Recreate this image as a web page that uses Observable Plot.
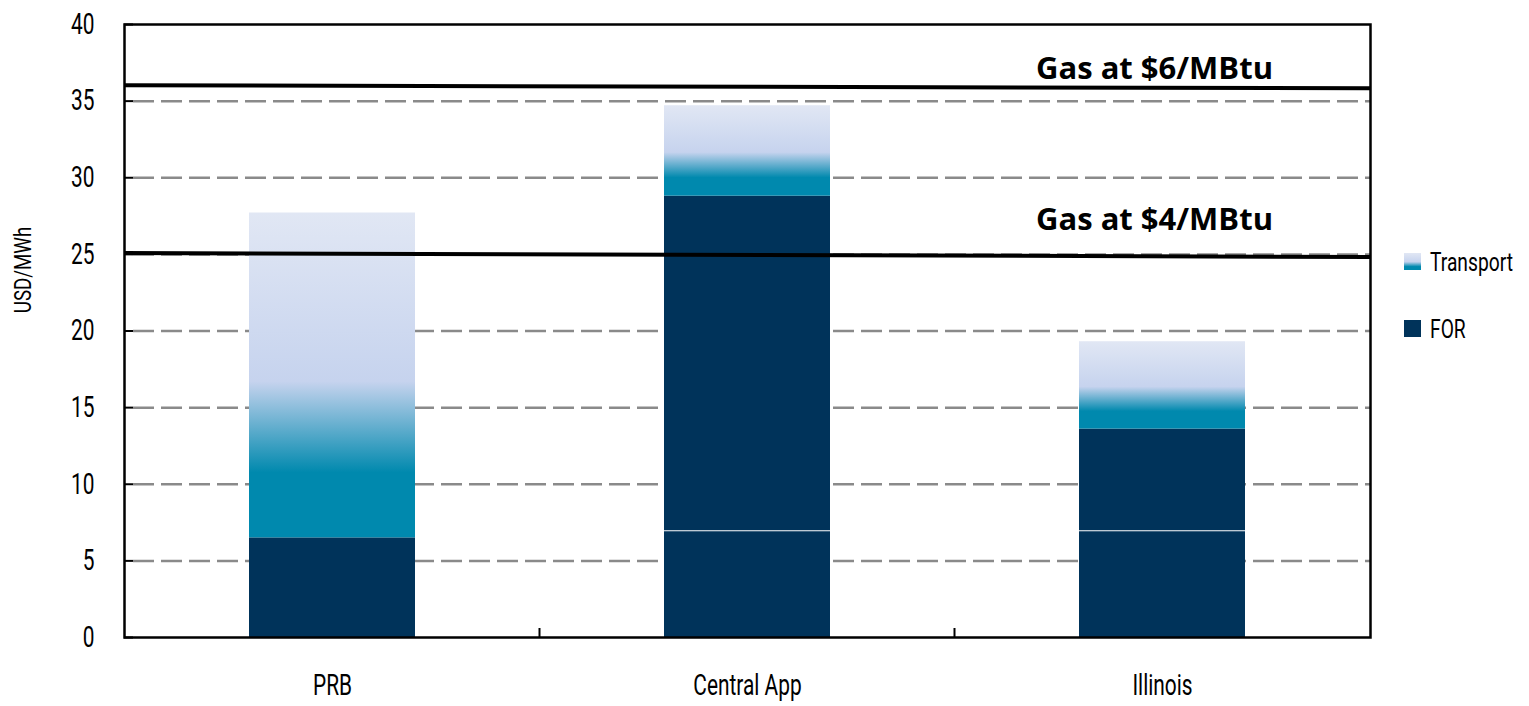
<!DOCTYPE html>
<html><head><meta charset="utf-8">
<script src="https://cdn.jsdelivr.net/npm/d3@7"></script>
<script src="https://cdn.jsdelivr.net/npm/@observablehq/plot@0.6"></script>
<style>body{margin:0;background:#fff}</style>
</head><body><div id="chart"></div>
<script>
// ---- data ----
const categories = ["PRB", "Central App", "Illinois"];
const forBase = [6.5, 6.9, 6.9];
const forUpper = [0, 21.9, 6.7];
const transport = [21.2, 5.9, 5.7];
const gasLabels = ["Gas at $6/MBtu", "Gas at $4/MBtu"];
const gasStart = [36.0, 25.05];
const gasEnd = [35.8, 24.8];
const yTicks = [0, 5, 10, 15, 20, 25, 30, 35, 40];
const gridTicks = [5, 10, 15, 20, 25, 30, 35];
const seriesNames = ["Transport", "FOR"];
const yLabel = "USD/MWh";

// ---- style ----
const NAVY = "#00335a", TEAL = "#0089ae", LAV = "#c6d3ee", TOP = "#e1e7f4";
const NARROW = "Roboto,'Liberation Sans',sans-serif";
const SQUEEZE = 0.72;
const W = 1529, H = 706, ML = 124, MR = 159, MT = 24, MB = 69;

const rows = categories.map((c, i) => ({
  cat: c,
  b0: 0,
  b1: forBase[i],
  u1: forBase[i] + forUpper[i],
  t1: forBase[i] + forUpper[i] + transport[i],
  up: forUpper[i]
}));
const gas = gasLabels.map((l, i) => ({label: l, y0: gasStart[i], y1: gasEnd[i], cat: categories[2]}));

const chart = Plot.plot({
  width: W, height: H,
  marginLeft: ML, marginRight: MR, marginTop: MT, marginBottom: MB,
  style: {fontFamily: NARROW, fontSize: "28px", background: "#fff", color: "#000"},
  x: {domain: categories, paddingInner: 0.6, paddingOuter: 0.3, label: null},
  y: {domain: [0, 40], label: null},
  marks: [
    Plot.ruleY(gridTicks, {stroke: "#8a8a8a", strokeWidth: 2.5, strokeDasharray: "21,7", insetLeft: 9}),
    Plot.barY(rows, {x: "cat", y1: "b0", y2: "b1", fill: NAVY}),
    Plot.barY(rows.filter(d => d.up > 0), {x: "cat", y1: "b1", y2: "u1", fill: NAVY, insetBottom: 1}),
    Plot.barY(rows, {x: "cat", y1: "u1", y2: "t1", fill: "url(#transportGrad)"}),
    Plot.frame({stroke: "#000", strokeWidth: 2.5}),
    Plot.axisY({ticks: yTicks, tickSize: 0, tickPadding: 30, fontSize: 29, label: null}),
    Plot.axisY({ticks: yTicks, tickSize: 9, dx: 9, strokeWidth: 2, tickFormat: () => "", label: null}),
    Plot.axisX({tickSize: 0, tickPadding: 37, fontSize: 29, label: null}),
    Plot.text(gas.slice(0, 1), {x: "cat", y: "y0", text: "label", dx: -8, dy: -7, lineAnchor: "bottom",
      fontFamily: "'Open Sans',sans-serif", fontWeight: "bold", fontSize: 31}),
    Plot.text(gas.slice(1), {x: "cat", y: "y0", text: "label", dx: -8, dy: -24, lineAnchor: "bottom",
      fontFamily: "'Open Sans',sans-serif", fontWeight: "bold", fontSize: 31})
  ]
});
document.getElementById("chart").appendChild(chart);

const svg = d3.select(chart);
const xs = chart.scale("x"), ys = chart.scale("y");
const yf = v => ys.apply(v);

// condensed look for axis tick labels
svg.selectAll('g[aria-label$="tick label"] text').each(function () {
  const t = this.getAttribute("transform") || "";
  this.setAttribute("transform", `${t} scale(${SQUEEZE},1)`);
});

// gradient defs
const defs = svg.insert("defs", ":first-child");
const g = defs.append("linearGradient").attr("id", "transportGrad")
  .attr("x1", 0).attr("y1", 1).attr("x2", 0).attr("y2", 0);
[[0, TEAL], [0.2, TEAL], [0.48, LAV], [1, TOP]].forEach(([o, c]) =>
  g.append("stop").attr("offset", o).attr("stop-color", c));

// category boundary ticks on the bottom axis
const bw = xs.bandwidth;
for (let i = 0; i < categories.length - 1; i++) {
  const xb = (xs.apply(categories[i]) + xs.apply(categories[i + 1])) / 2 + bw / 2;
  svg.append("line").attr("x1", xb).attr("x2", xb)
    .attr("y1", yf(0)).attr("y2", yf(0) - 9)
    .attr("stroke", "#000").attr("stroke-width", 2);
}

// gas price lines
gas.forEach(d => {
  svg.append("line")
    .attr("x1", ML).attr("x2", W - MR)
    .attr("y1", yf(d.y0)).attr("y2", yf(d.y1))
    .attr("stroke", "#000").attr("stroke-width", 4);
});

// y axis title
svg.append("text")
  .attr("transform", `translate(31,${MT + 246}) rotate(-90) scale(0.78,1)`)
  .attr("text-anchor", "middle")
  .attr("font-family", NARROW).attr("font-size", 24)
  .text(yLabel);

// legend
const lg = svg.append("g").attr("transform", `translate(${W - MR + 34},0)`);
seriesNames.forEach((name, i) => {
  const cy = MT + 238 + i * 67;
  lg.append("rect").attr("x", 0).attr("y", cy - 9).attr("width", 17).attr("height", 17)
    .attr("fill", name === "Transport" ? "url(#transportGrad)" : NAVY);
  lg.append("text").attr("transform", `translate(26,${cy}) scale(0.74,1)`)
    .attr("dy", "0.35em").attr("text-anchor", "start")
    .attr("font-family", NARROW).attr("font-size", 26).text(name);
});
</script>
</body></html>
